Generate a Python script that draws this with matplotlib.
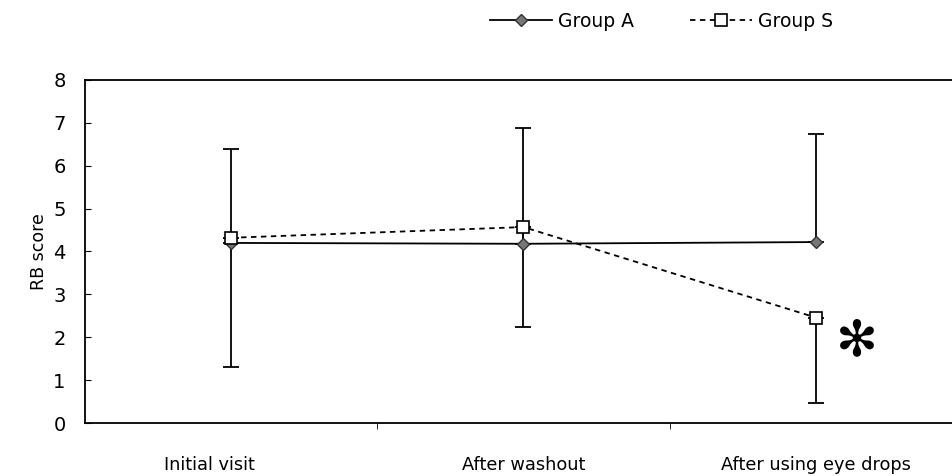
import matplotlib.pyplot as plt
import matplotlib.transforms as mtransforms
import numpy as np

categories = ["Initial visit", "After washout", "After using eye drops"]
group_a = [4.2, 4.18, 4.22]
group_a_err_up = [2.2, 2.7, 2.52]      # plus-only error bars
group_s = [4.32, 4.57, 2.46]
group_s_err_down = [3.02, 2.32, 1.99]  # minus-only error bars
y_ticks = [0, 1, 2, 3, 4, 5, 6, 7, 8]

plt.rcParams['font.family'] = ['DejaVu Sans']
plt.rcParams['font.size'] = 12

fig = plt.figure(figsize=(9.53, 4.76), dpi=100)
ax = fig.add_axes([0.0892, 0.1113, 0.9202, 0.7207])

x = np.arange(len(categories)) + 0.5

ax.errorbar(x, group_a, yerr=[np.zeros(3), group_a_err_up], fmt="none",
            ecolor="black", elinewidth=1.3, capsize=6, capthick=1.3, zorder=2)
ax.errorbar(x, group_s, yerr=[group_s_err_down, np.zeros(3)], fmt="none",
            ecolor="black", elinewidth=1.3, capsize=6, capthick=1.3, zorder=2)

ax.plot(x, group_a, color="black", linewidth=1.3, marker="D", markersize=6,
        markerfacecolor="#777777", markeredgecolor="#333333", label="Group A", zorder=3)
ax.plot(x, group_s, color="black", linewidth=1.3, linestyle=(0, (3, 2.5)), marker="s",
        markersize=8, markerfacecolor="white", markeredgecolor="black",
        markeredgewidth=1.2, label="Group S", zorder=4)

ax.text(2.64, 1.9, "\u273b", fontsize=36, ha="center", va="center")

ax.set_xlim(0, 3)
ax.set_ylim(0, 8)
ax.set_yticks(y_ticks)
ax.set_xticks(x)
ax.set_xticklabels(categories, fontsize=12.8)
ax.set_xticks([1, 2], minor=True)
ax.tick_params(axis="x", which="major", length=0, pad=24)
ax.tick_params(axis="x", which="minor", length=4, direction="out")
ax.tick_params(axis="y", direction="in", length=4, pad=14, labelsize=14)
ax.set_ylabel("RB score", fontsize=12.5, labelpad=4)

# first label sits a little left of its category in the original
lbl = ax.get_xticklabels()[0]
lbl.set_transform(lbl.get_transform() + mtransforms.ScaledTranslation(-0.22, 0, fig.dpi_scale_trans))

for s in ["left", "bottom", "top"]:
    ax.spines[s].set_linewidth(1.3)
ax.spines["right"].set_visible(False)

fig.legend(loc="center", bbox_to_anchor=(0.694, 0.955), ncol=2, frameon=False,
           handlelength=3.3, columnspacing=3.0, handletextpad=0.3, fontsize=13.5)

fig.savefig("out.png", dpi=100)
